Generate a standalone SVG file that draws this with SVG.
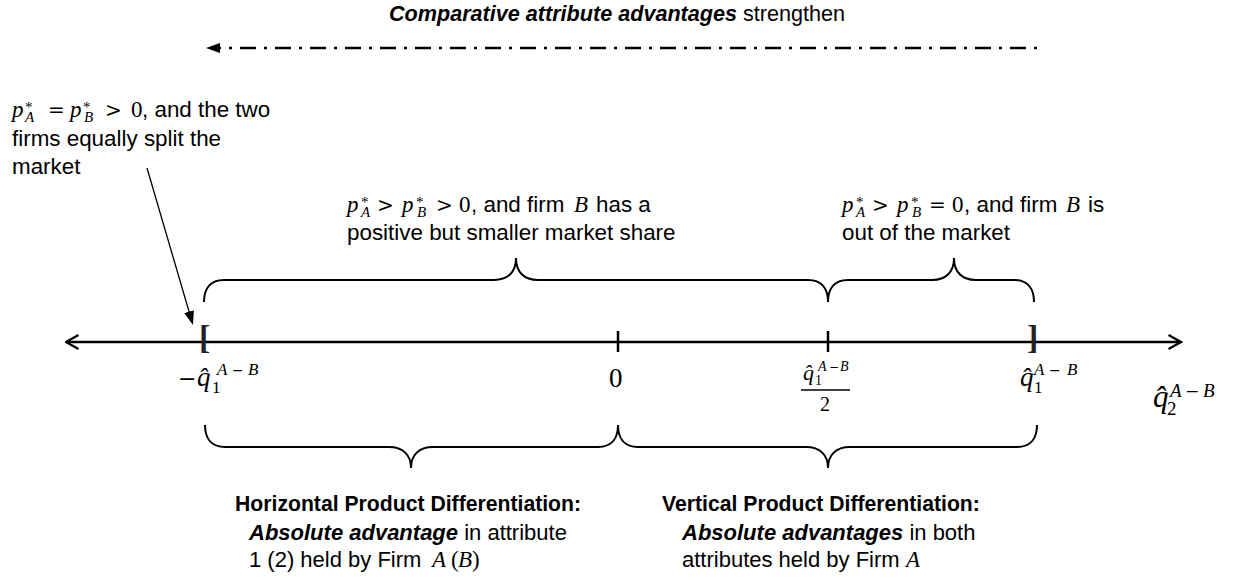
<svg xmlns="http://www.w3.org/2000/svg" width="1233" height="581" viewBox="0 0 1233 581">
<style>
.s{font-family:"Liberation Sans",Arial,sans-serif;font-size:22.4px;font-style:normal;font-weight:400;fill:#000}
.h{font-family:"Liberation Sans",Arial,sans-serif;font-size:21.2px;font-weight:700;fill:#000}
.bi{font-weight:700;font-style:italic}
.mi{font-family:"Liberation Serif","Times New Roman",serif;font-style:italic;fill:#000}
.mr{font-family:"Liberation Serif","Times New Roman",serif;font-style:normal;fill:#000}
.op{font-family:"DejaVu Serif",serif;font-style:normal;fill:#000}
.f23{font-size:23px}.f15{font-size:15px}.f20{font-size:20px}
.f27{font-size:27px}.f17{font-size:17px}.f14{font-size:14px}.f12{font-size:12px}
.f31{font-size:31px}.f19{font-size:19px}.f22{font-size:22px}
.br{font-family:"Liberation Serif","Times New Roman",serif;font-size:34px;font-weight:700;fill:#222}
.ln{fill:none;stroke:#000;stroke-width:2}
.axis{fill:none;stroke:#000;stroke-width:2.5}
.dd{fill:none;stroke:#000;stroke-width:2.3;stroke-dasharray:3 8 16 8}
.ptr{fill:none;stroke:#000;stroke-width:1.3}
.tick{stroke:#000;stroke-width:2.5}
</style>
<defs>
<marker id="tri" viewBox="0 0 14 10" refX="2" refY="5" markerWidth="14" markerHeight="10" markerUnits="userSpaceOnUse" orient="auto"><path d="M0,0 L14,5 L0,10 z" fill="#000"/></marker>
<marker id="chev" viewBox="0 0 15 18" refX="13.5" refY="9" markerWidth="15" markerHeight="18" markerUnits="userSpaceOnUse" orient="auto-start-reverse"><path d="M1,2 L13.5,9 L1,16" fill="none" stroke="#000" stroke-width="2.2"/></marker>
</defs>

<g id="title">
<text class="s" x="389" y="21" style="font-size:21.6px"><tspan class="bi">Comparative attribute advantages</tspan> strengthen</text>
</g>

<g id="connectors">
<line class="dd" x1="1037" y1="48" x2="218" y2="48" marker-end="url(#tri)"/>
<line class="ptr" x1="147" y1="168" x2="189.6" y2="313.5" marker-end="url(#tri)"/>
<line class="axis" x1="66" y1="342" x2="1181" y2="342" marker-start="url(#chev)" marker-end="url(#chev)"/>
<line class="tick" x1="618" y1="331" x2="618" y2="352"/>
<line class="tick" x1="828" y1="331" x2="828" y2="352"/>
<path class="ln" d="M204,302 C204,289 210,280 224,280 H494 C508,280 516,272 516,258 C516,272 524,280 538,280 H808 C822,280 828,289 828,302"/>
<path class="ln" d="M828,302 C828,289 834,280 848,280 H932 C946,280 954,272 954,258 C954,272 962,280 976,280 H1014 C1028,280 1034,289 1034,302"/>
<path class="ln" d="M205,425 C205,438 211,447 225,447 H389 C403,447 411,455 411,468 C411,455 419,447 433,447 H598 C612,447 618,438 618,425"/>
<path class="ln" d="M618,425 C618,438 624,447 638,447 H806 C820,447 828,455 828,468 C828,455 836,447 850,447 H1017 C1031,447 1037,438 1037,425"/>
</g>

<g id="note-equal-split">
<text class="mi f23" y="117"><tspan x="12">p</tspan><tspan class="mr f15" x="25" y="112">*</tspan><tspan class="f15" x="25" y="122">A</tspan><tspan class="op f20" x="48" y="117">=</tspan><tspan x="70">p</tspan><tspan class="mr f15" x="83" y="112">*</tspan><tspan class="f15" x="84" y="122">B</tspan><tspan class="op f20" x="105" y="117">&gt;</tspan><tspan class="mr" x="131">0</tspan><tspan class="s" x="142">, and the two</tspan></text>
<text class="s" x="12" y="146">firms equally split the</text>
<text class="s" x="12" y="174">market</text>
</g>

<g id="note-smaller-share">
<text class="mi f23" y="212"><tspan x="347">p</tspan><tspan class="mr f15" x="361" y="207">*</tspan><tspan class="f15" x="361" y="217">A</tspan><tspan class="op f20" x="377" y="212">&gt;</tspan><tspan x="402">p</tspan><tspan class="mr f15" x="416" y="207">*</tspan><tspan class="f15" x="417" y="217">B</tspan><tspan class="op f20" x="436" y="212">&gt;</tspan><tspan class="mr" x="459">0</tspan><tspan class="s" x="471">, and firm</tspan><tspan x="574">B</tspan><tspan class="s" x="596">has a</tspan></text>
<text class="s" x="347" y="240">positive but smaller market share</text>
</g>

<g id="note-out-of-market">
<text class="mi f23" y="212"><tspan x="842">p</tspan><tspan class="mr f15" x="856" y="207">*</tspan><tspan class="f15" x="856" y="217">A</tspan><tspan class="op f20" x="872" y="212">&gt;</tspan><tspan x="897">p</tspan><tspan class="mr f15" x="911" y="207">*</tspan><tspan class="f15" x="912" y="217">B</tspan><tspan class="op f20" x="929" y="212">=</tspan><tspan class="mr" x="952">0</tspan><tspan class="s" x="964">, and firm</tspan><tspan x="1066">B</tspan><tspan class="s" x="1088">is</tspan></text>
<text class="s" x="842" y="240">out of the market</text>
</g>

<g id="bracket-left">
<text class="br" x="199" y="349">[</text>
<text class="mi f27" y="386"><tspan class="op f22" x="178">−</tspan><tspan x="197">q̂</tspan><tspan class="mr f17" x="212" y="393">1</tspan><tspan class="f17" x="217" y="375">A</tspan><tspan class="op f14" x="232">−</tspan><tspan class="f17" x="248">B</tspan></text>
</g>

<g id="tick-zero">
<text class="mr f27" x="609" y="387">0</text>
</g>

<g id="tick-half">
<text class="mi f22" y="380"><tspan x="803">q̂</tspan><tspan class="mr f14" x="815" y="385">1</tspan><tspan class="f14" x="818" y="371">A</tspan><tspan class="op f12" x="829">−</tspan><tspan class="f14" x="840">B</tspan></text>
<line x1="801" y1="390" x2="850" y2="390" stroke="#000" stroke-width="1.4"/>
<text class="mr f20" x="820" y="411">2</text>
</g>

<g id="bracket-right">
<text class="br" x="1027" y="349">]</text>
<text class="mi f27" y="386"><tspan x="1020">q̂</tspan><tspan class="mr f17" x="1034" y="393">1</tspan><tspan class="f17" x="1034" y="375">A</tspan><tspan class="op f14" x="1049">−</tspan><tspan class="f17" x="1067">B</tspan></text>
</g>

<g id="axis-label">
<text class="mi f31" y="407"><tspan x="1153">q̂</tspan><tspan class="mr f19" x="1167" y="415">2</tspan><tspan class="f19" x="1170" y="397">A</tspan><tspan class="op f17" x="1185">−</tspan><tspan class="f19" x="1203">B</tspan></text>
</g>

<g id="horizontal-pd">
<text class="h" x="235" y="511">Horizontal Product Differentiation:</text>
<text class="s" x="249" y="540" style="font-size:22px"><tspan class="bi">Absolute advantage</tspan> in attribute</text>
<text class="s" y="567" style="font-size:22px"><tspan x="249">1 (2) held by Firm</tspan><tspan class="mi f23" x="432">A</tspan><tspan class="mr f23" x="451">(</tspan><tspan class="mi f23" x="458">B</tspan><tspan class="mr f23" x="472">)</tspan></text>
</g>

<g id="vertical-pd">
<text class="h" x="662" y="511">Vertical Product Differentiation:</text>
<text class="s" x="682" y="540" style="font-size:22px"><tspan class="bi">Absolute advantages</tspan> in both</text>
<text class="s" y="567" style="font-size:22px"><tspan x="682">attributes held by Firm</tspan><tspan class="mi f23" x="906">A</tspan></text>
</g>
</svg>
